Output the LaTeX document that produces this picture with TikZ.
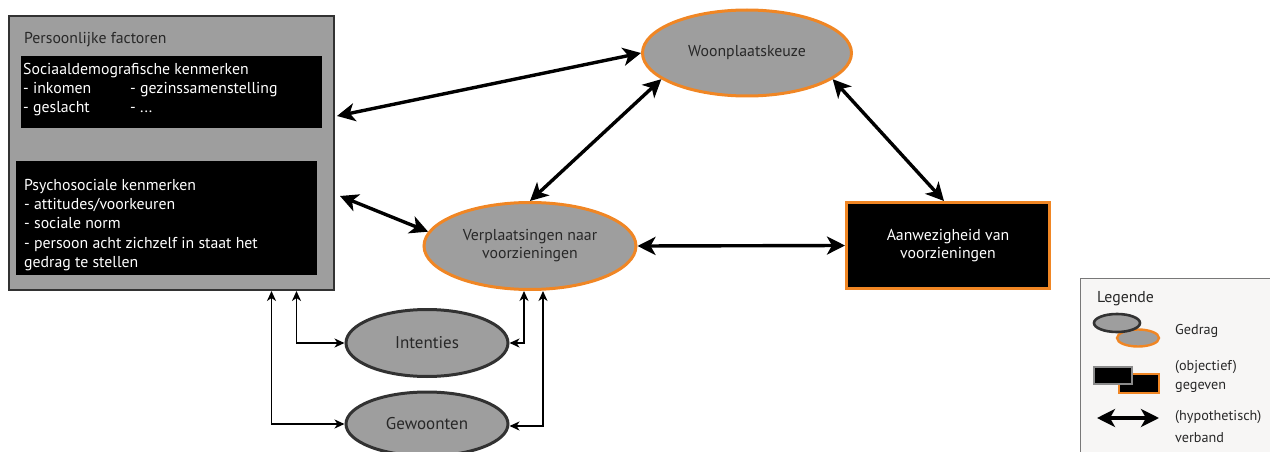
\documentclass[tikz,border=0pt]{standalone}
\usepackage{fontspec}
\setmainfont{PT Sans}
\usetikzlibrary{shapes.geometric,arrows.meta,calc}
\definecolor{boxgray}{RGB}{158,158,158}
\definecolor{edgegray}{RGB}{50,50,50}
\definecolor{accent}{RGB}{240,134,36}
\definecolor{inkgray}{RGB}{40,40,40}
\definecolor{legendbg}{RGB}{247,246,245}
\definecolor{legendedge}{RGB}{120,120,120}
\begin{document}
\begin{tikzpicture}[x=1pt,y=-1pt,
  font=\fontsize{15.8}{18}\selectfont,
  behaviour/.style={ellipse,fill=boxgray,draw=accent,line width=3pt,inner sep=0pt,text=inkgray,align=center},
  habit/.style={ellipse,fill=boxgray,draw=edgegray,line width=3pt,inner sep=0pt,text=inkgray,align=center},
  givenbox/.style={rectangle,fill=black,draw=accent,line width=3pt,inner sep=0pt,text=white,align=center},
  innerbox/.style={rectangle,fill=black,inner sep=0pt,anchor=north west},
  link/.style={line width=3.4pt,{Stealth[length=18pt,width=18pt,inset=5pt]}-{Stealth[length=18pt,width=18pt,inset=5pt]}},
  thinlink/.style={line width=1.7pt,{Stealth[length=10pt,width=9pt,inset=3pt]}-{Stealth[length=10pt,width=9pt,inset=3pt]}},
  whitetext/.style={text=white,anchor=base west,inner sep=0pt},
  legtext/.style={anchor=base west,inner sep=0pt,text=inkgray,font=\fontsize{14.2}{16}\selectfont},
]
\useasboundingbox (0,0) rectangle (1270,452);

% Personal factors panel
\node[rectangle,fill=boxgray,draw=edgegray,line width=2pt,minimum width=325pt,minimum height=274pt,inner sep=0pt,anchor=north west] (pf) at (8,15) {};
\node[anchor=base west,inner sep=0pt,text=inkgray] (pftitle) at (24,44) {Persoonlijke factoren};
\node[innerbox,minimum width=301pt,minimum height=72pt] (sd) at (21,56) {};
\node[whitetext] (sd1) at (23,75) {Sociaaldemografische kenmerken};
\node[whitetext] (sd2) at (23,94) {- inkomen};
\node[whitetext] (sd3) at (23,113) {- geslacht};
\node[whitetext] (sd4) at (130,94) {- gezinssamenstelling};
\node[whitetext] (sd5) at (130,113) {- ...};
\node[innerbox,minimum width=301pt,minimum height=114pt] (ps) at (16,161) {};
\node[whitetext] (ps1) at (24,190) {Psychosociale kenmerken};
\node[whitetext] (ps2) at (24,209) {- attitudes/voorkeuren};
\node[whitetext] (ps3) at (24,228) {- sociale norm};
\node[whitetext] (ps4) at (24,248) {- persoon acht zichzelf in staat het};
\node[whitetext] (ps5) at (24,267) {gedrag te stellen};

% Behaviour and given nodes
\node[behaviour,minimum width=209pt,minimum height=86pt] (woon) at (747,53) {Woonplaatskeuze};
\node[behaviour,minimum width=212pt,minimum height=87pt] (verpl) at (530,246) {Verplaatsingen naar\\voorzieningen};
\node[givenbox,minimum width=203pt,minimum height=86pt] (aanw) at (948,245.5) {Aanwezigheid van\\voorzieningen};
\node[habit,minimum width=162pt,minimum height=67pt,font=\fontsize{17}{20}\selectfont] (int) at (427,343) {Intenties};
\node[habit,minimum width=162pt,minimum height=64pt,font=\fontsize{17}{20}\selectfont] (gew) at (427,424) {Gewoonten};

% Hypothesised relations
\draw[link] ([xshift=2pt,yshift=37pt]pf.east) -- (woon.west);
\draw[link] ([xshift=5pt,yshift=-43pt]pf.east) -- (verpl.172);
\draw[link] (woon.197) -- (verpl.north);
\draw[link] (woon.343) -- ([xshift=-4pt]aanw.north);
\draw[link] (verpl.east) -- (aanw.west);

% Links to intentions and habits
\draw[thinlink] ([xshift=125pt]pf.south) |- (int.west);
\draw[thinlink] ([xshift=100pt]pf.south) |- (gew.west);
\draw[thinlink] ([xshift=-6pt]verpl.south) |- (int.east);
\draw[thinlink] ([xshift=13pt]verpl.south) |- ([yshift=-2pt]gew.east);

% Legend
\node[rectangle,fill=legendbg,draw=legendedge,line width=0.8pt,anchor=north west,minimum width=192pt,minimum height=185pt,inner sep=0pt] (legend) at (1080,278) {};
\node[anchor=base west,inner sep=0pt,text=inkgray,font=\fontsize{15.8}{18}\selectfont] (legtitle) at (1097,302) {Legende};
\node[ellipse,fill=boxgray,draw=accent,line width=2.4pt,minimum width=42pt,minimum height=17pt,inner sep=0pt] (lgo) at (1138,338) {};
\node[ellipse,fill=boxgray,draw=edgegray,line width=2.6pt,minimum width=46pt,minimum height=18pt,inner sep=0pt] (lgd) at (1117,323) {};
\node[legtext] (lgt1) at (1175,334) {Gedrag};
\node[rectangle,fill=black,draw=accent,line width=2.4pt,minimum width=40pt,minimum height=19pt,inner sep=0pt] (lro) at (1139,383.5) {};
\node[rectangle,fill=black,draw=legendedge!50!boxgray,line width=2.8pt,minimum width=38pt,minimum height=17pt,inner sep=0pt] (lrg) at (1113,375.5) {};
\node[legtext] (lgt2) at (1175,370) {(objectief)};
\node[legtext] (lgt3) at (1175,389) {gegeven};
\coordinate (la) at (1097,418);
\coordinate (lb) at (1159,418);
\draw[link] (la) -- (lb);
\node[legtext] (lgt4) at (1175,420) {(hypothetisch)};
\node[legtext] (lgt5) at (1175,442) {verband};
\end{tikzpicture}
\end{document}
